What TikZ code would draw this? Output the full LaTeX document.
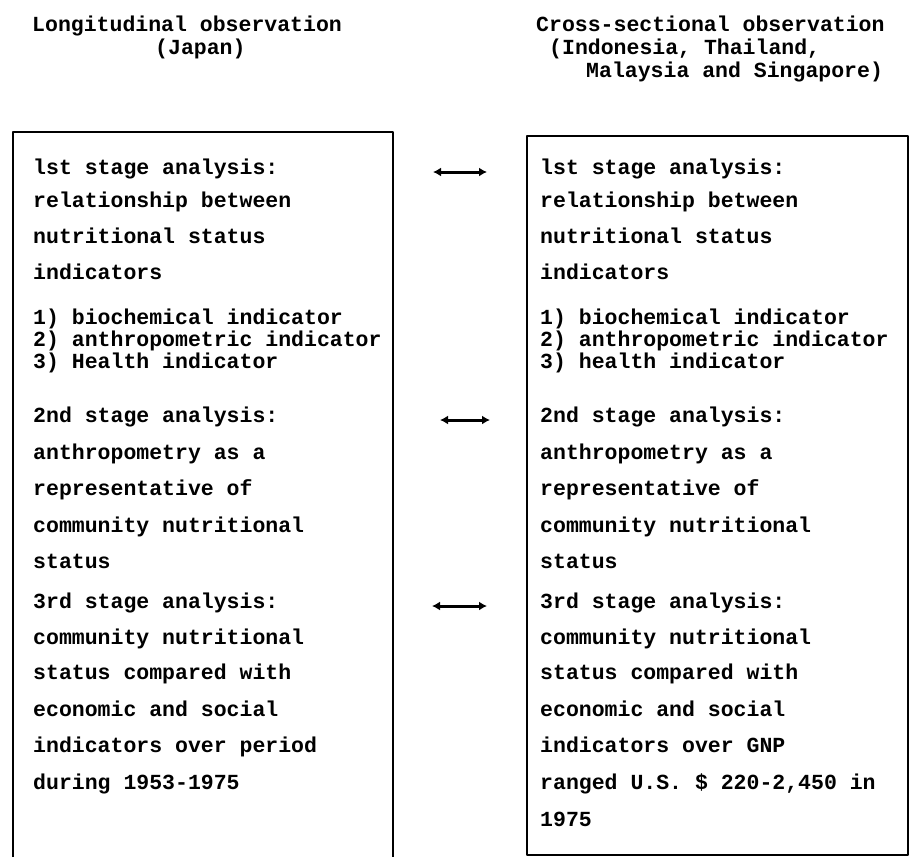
\documentclass[tikz,border=0pt]{standalone}
\usepackage{fontspec}
\newfontfamily\twfont{Liberation Mono}
\usetikzlibrary{arrows.meta}
\begin{document}
\begin{tikzpicture}[x=1pt,y=-1pt,
  txt/.style={anchor=mid west, inner sep=0pt, font=\twfont\bfseries\fontsize{21.5}{24}\selectfont},
  hdr/.style={anchor=mid west, inner sep=0pt, font=\twfont\bfseries\fontsize{21.5}{24}\selectfont},
  frame/.style={line width=2.8pt, line join=round},
  dbl/.style={line width=3pt, {Latex[length=8pt,width=9pt]}-{Latex[length=8pt,width=9pt]}}]
\useasboundingbox (0,0) rectangle (910,857);
% headers
\node[hdr] (h1) at (32,29) {Longitudinal observation};
\node[hdr] (h2) at (155,52) {(Japan)};
\node[hdr] (h3) at (536,29) {Cross-sectional observation};
\node[hdr] (h4) at (549,52) {(Indonesia, Thailand,};
\node[hdr] (h5) at (586,75) {Malaysia and Singapore)};
% boxes
\draw[frame] (13,857) -- (13,132) -- (393,132) -- (393,857);
\draw[frame] (527,136) rectangle (908,855);
% left text
\node[txt] (l1) at (33,172) {lst stage analysis:};
\node[txt] (l2) at (33,205) {relationship between};
\node[txt] (l3) at (33,241) {nutritional status};
\node[txt] (l4) at (33,277) {indicators};
\node[txt] (l5) at (33,322) {1) biochemical indicator};
\node[txt] (l6) at (33,344) {2) anthropometric indicator};
\node[txt] (l7) at (33,366) {3) Health indicator};
\node[txt] (l8) at (33,420) {2nd stage analysis:};
\node[txt] (l9) at (33,457) {anthropometry as a};
\node[txt] (l10) at (33,493) {representative of};
\node[txt] (l11) at (33,530) {community nutritional};
\node[txt] (l12) at (33,566) {status};
\node[txt] (l13) at (33,606) {3rd stage analysis:};
\node[txt] (l14) at (33,642) {community nutritional};
\node[txt] (l15) at (33,677) {status compared with};
\node[txt] (l16) at (33,714) {economic and social};
\node[txt] (l17) at (33,750) {indicators over period};
\node[txt] (l18) at (33,787) {during 1953-1975};
% right text
\node[txt] (r1) at (540,172) {lst stage analysis:};
\node[txt] (r2) at (540,205) {relationship between};
\node[txt] (r3) at (540,241) {nutritional status};
\node[txt] (r4) at (540,277) {indicators};
\node[txt] (r5) at (540,322) {1) biochemical indicator};
\node[txt] (r6) at (540,344) {2) anthropometric indicator};
\node[txt] (r7) at (540,366) {3) health indicator};
\node[txt] (r8) at (540,420) {2nd stage analysis:};
\node[txt] (r9) at (540,457) {anthropometry as a};
\node[txt] (r10) at (540,493) {representative of};
\node[txt] (r11) at (540,530) {community nutritional};
\node[txt] (r12) at (540,566) {status};
\node[txt] (r13) at (540,606) {3rd stage analysis:};
\node[txt] (r14) at (540,642) {community nutritional};
\node[txt] (r15) at (540,677) {status compared with};
\node[txt] (r16) at (540,714) {economic and social};
\node[txt] (r17) at (540,750) {indicators over GNP};
\node[txt] (r18) at (540,787) {ranged U.S. \$ 220-2,450 in};
\node[txt] (r19) at (540,824) {1975};
% arrows
\coordinate (a1s) at (433,172); \coordinate (a1e) at (487,172);
\coordinate (a2s) at (440,420); \coordinate (a2e) at (490,420);
\coordinate (a3s) at (432,606); \coordinate (a3e) at (487,606);
\draw[dbl] (a1s) -- (a1e);
\draw[dbl] (a2s) -- (a2e);
\draw[dbl] (a3s) -- (a3e);
\end{tikzpicture}
\end{document}
